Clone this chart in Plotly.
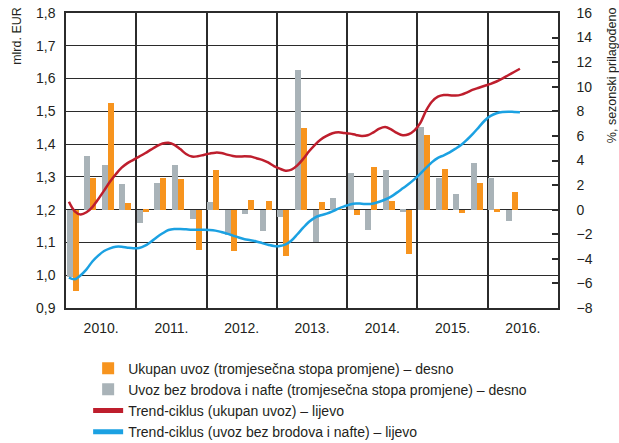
import plotly.graph_objects as go

# ---------------- data ----------------
years = [2010, 2011, 2012, 2013, 2014, 2015, 2016]
year_labels = ["2010.", "2011.", "2012.", "2013.", "2014.", "2015.", "2016."]

# quarterly growth rates (%), 2010 Q1 .. 2016 Q2
quarters = [(y, q) for y in years for q in range(1, 5)][:26]
ukupan_q = [-6.65, 2.6, 8.65, 0.55,
            -0.15, 2.6, 2.5, -3.25,
            3.2, -3.4, 0.8, 0.7,
            -3.75, 6.65, 0.65, 0.05,
            -0.4, 3.5, 0.7, -3.6,
            6.05, 3.3, -0.25, 2.2,
            -0.15, 1.45]
bez_q = [-5.5, 4.4, 3.6, 2.1,
         -1.05, 2.2, 3.6, -0.75,
         0.6, -2.1, -0.35, -1.7,
         -0.6, 11.35, -2.65, 0.95,
         2.95, -1.65, 3.2, -0.15,
         6.7, 2.6, 1.3, 3.8,
         2.6, -0.9]

# monthly trend-cycle (mlrd. EUR), 2010-01 .. 2016-06
months = [(y, m) for y in years for m in range(1, 13)][:78]
trend_ukupan = [1.224, 1.195, 1.185, 1.192, 1.208, 1.232, 1.258, 1.285, 1.308, 1.328, 1.342, 1.352,
                1.362, 1.372, 1.383, 1.394, 1.402, 1.404, 1.398, 1.385, 1.370, 1.362, 1.363, 1.367,
                1.371, 1.374, 1.373, 1.368, 1.364, 1.362, 1.363, 1.362, 1.357, 1.352, 1.344, 1.333,
                1.325, 1.319, 1.322, 1.335, 1.355, 1.378, 1.398, 1.414, 1.425, 1.433, 1.436, 1.434,
                1.432, 1.428, 1.425, 1.427, 1.436, 1.447, 1.452, 1.445, 1.434, 1.427, 1.430, 1.442,
                1.465, 1.503, 1.530, 1.545, 1.550, 1.549, 1.548, 1.551, 1.558, 1.566, 1.572, 1.578,
                1.584, 1.591, 1.600, 1.610, 1.620, 1.630]
trend_bez = [0.993, 0.988, 1.000, 1.018, 1.042, 1.060, 1.074, 1.082, 1.087, 1.087, 1.084, 1.082,
             1.083, 1.090, 1.102, 1.116, 1.128, 1.138, 1.141, 1.141, 1.140, 1.139, 1.139, 1.139,
             1.138, 1.136, 1.132, 1.127, 1.121, 1.115, 1.110, 1.107, 1.103, 1.098, 1.093, 1.089,
             1.089, 1.094, 1.106, 1.125, 1.145, 1.163, 1.176, 1.183, 1.188, 1.195, 1.203, 1.210,
             1.216, 1.219, 1.218, 1.217, 1.219, 1.224, 1.231, 1.240, 1.252, 1.265, 1.278, 1.293,
             1.310, 1.328, 1.345, 1.358, 1.366, 1.375, 1.386, 1.398, 1.414, 1.432, 1.452, 1.472,
             1.486, 1.494, 1.498, 1.499, 1.498, 1.497]

names = ["Ukupan uvoz (tromjesečna stopa promjene) – desno",
         "Uvoz bez brodova i nafte (tromjesečna stopa promjene) – desno",
         "Trend-ciklus (ukupan uvoz) – lijevo",
         "Trend-ciklus (uvoz bez brodova i nafte) – lijevo"]

ORANGE = "#F7941E"
GRAY = "#A9B3B8"
RED = "#BE1E2D"
BLUE = "#1BA1E2"
FONT = "Liberation Sans, Arial, sans-serif"

# ---------------- positions ----------------
q_start = [y + (q - 1) / 4 for (y, q) in quarters]
m_x = [y + (m - 0.5) / 12 for (y, m) in months]
bw = 0.085

fig = go.Figure()
fig.add_trace(go.Bar(x=q_start, y=ukupan_q, name=names[0], marker_color=ORANGE,
                     width=bw, offset=bw + 0.008, yaxis="y", marker_line_width=0))
fig.add_trace(go.Bar(x=q_start, y=bez_q, name=names[1], marker_color=GRAY,
                     width=bw, offset=0.008, yaxis="y", marker_line_width=0))
fig.add_trace(go.Scatter(x=m_x, y=trend_ukupan, name=names[2], mode="lines",
                         line=dict(color=RED, width=2.5, shape="spline"), yaxis="y2"))
fig.add_trace(go.Scatter(x=m_x, y=trend_bez, name=names[3], mode="lines",
                         line=dict(color=BLUE, width=2.5, shape="spline"), yaxis="y2"))

AX = "#2b2b2b"
fig.update_layout(
    width=619, height=443,
    margin=dict(l=66, r=61, t=13, b=135, autoexpand=False),
    paper_bgcolor="white", plot_bgcolor="white",
    font=dict(family=FONT, size=14, color="#231F20"),
    separators=", ",
    showlegend=True,
    legend=dict(x=0.045, y=-0.151, xanchor="left", yanchor="top",
                font=dict(size=14), tracegroupgap=0, itemsizing="constant",
                bgcolor="rgba(0,0,0,0)"),
    bargap=0,
    xaxis=dict(range=[2010, 2017], tickvals=[y + 0.5 for y in years], ticktext=year_labels,
               ticks="", showgrid=False, showline=True, linecolor=AX, linewidth=1.5,
               mirror=True, zeroline=False, tickfont=dict(size=14), automargin=False,
               ticklabelstandoff=6,
               minor=dict(tickvals=[2011, 2012, 2013, 2014, 2015, 2016],
                          showgrid=True, gridcolor=AX, gridwidth=1.5, ticks="")),
    yaxis=dict(range=[-8, 16], dtick=2, side="right", showgrid=False, zeroline=False,
               ticks="inside", ticklen=6, tickcolor=AX, tickwidth=1.5,
               showline=True, linecolor=AX, linewidth=1.5, automargin=False,
               ticklabelstandoff=14, tickfont=dict(size=14)),
    yaxis2=dict(range=[0.9, 1.8], dtick=0.1, side="left", overlaying="y",
                showgrid=True, gridcolor=AX, gridwidth=1.2, zeroline=False,
                ticks="", showline=True, linecolor=AX, linewidth=1.5, automargin=False,
                ticklabelstandoff=6, tickformat=".1f", tickfont=dict(size=14)),
    annotations=[
        dict(text="mlrd. EUR", xref="paper", yref="paper", x=-0.1, y=1.027,
             xanchor="center", yanchor="top", textangle=-90, showarrow=False,
             font=dict(size=12.5)),
        dict(text="%, sezonski prilagođeno", xref="paper", yref="paper", x=1.11, y=1.027,
             xanchor="center", yanchor="top", textangle=-90, showarrow=False,
             font=dict(size=12.5)),
    ],
)
# remove the default 8px body margin so the figure sits at the page origin
fig.write_html("out.html", config={"displayModeBar": False},
               post_script="document.body.style.margin='0';")
